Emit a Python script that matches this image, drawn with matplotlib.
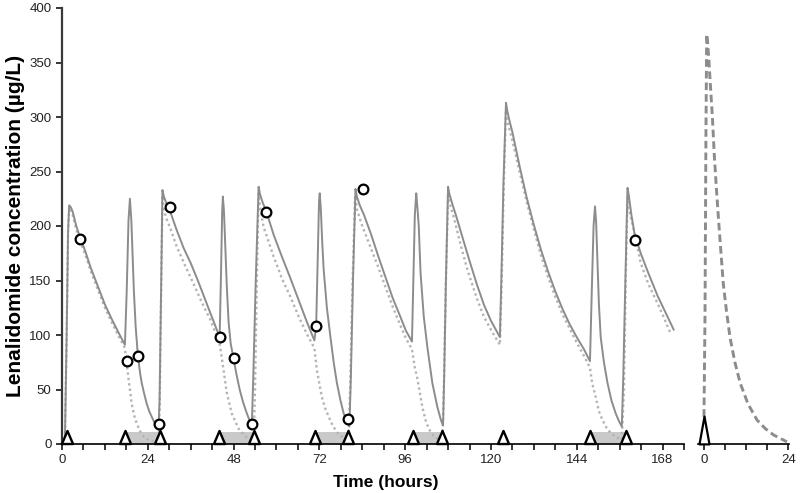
import numpy as np
import matplotlib
matplotlib.use("Agg")
import matplotlib.pyplot as plt
from matplotlib.patches import Rectangle
from matplotlib.path import Path

plt.rcParams['font.family'] = ['Liberation Sans', 'DejaVu Sans']

# model prediction, solid line (time h, conc ug/L)
solid = [
    (0.8, 0), (1.3, 100), (1.7, 195), (2.0, 219), (2.5, 217), (3.0, 213), (4.0, 200), (5.0, 190),
    (6.5, 177), (8.0, 162), (10.0, 145), (12.0, 128), (14.0, 114), (16.0, 101), (17.6, 91),
    (18.1, 140), (18.6, 205), (19.0, 225), (19.4, 205), (19.8, 168), (20.1, 141), (20.6, 108),
    (21.2, 82), (21.8, 66), (22.3, 56), (23.0, 46), (23.7, 37), (24.4, 30), (25.1, 25), (25.8, 20),
    (26.5, 17), (27.0, 15),
    (27.3, 40), (27.7, 140), (28.1, 233), (28.5, 227), (29.3, 220), (30.3, 213), (32.0, 197),
    (34.0, 180), (36.0, 166), (38.0, 150), (40.0, 133), (42.0, 116), (44.1, 98),
    (44.5, 160), (44.8, 212), (45.0, 227), (45.3, 214), (45.7, 180), (46.1, 145), (46.6, 112),
    (47.2, 92), (48.0, 78), (48.8, 64), (49.7, 50), (50.6, 39), (51.5, 30), (52.3, 23), (53.1, 17),
    (53.5, 60), (54.2, 150), (55.0, 236), (55.4, 229), (56.2, 221), (57.1, 214), (59.2, 192),
    (61.5, 172), (63.9, 152), (66.2, 132), (68.5, 112), (70.6, 95),
    (71.1, 108), (71.5, 165), (71.9, 222), (72.1, 230), (72.4, 216), (72.8, 185), (73.2, 160),
    (74.1, 125), (75.1, 98), (76.0, 75), (76.9, 56), (77.9, 40), (78.8, 28), (79.7, 20), (80.4, 16),
    (80.8, 60), (81.4, 150), (82.1, 234), (82.5, 227), (83.3, 219), (84.5, 210), (86.5, 192),
    (88.5, 172), (90.5, 153), (92.5, 134), (94.5, 118), (96.2, 104), (97.9, 94),
    (98.3, 150), (98.7, 210), (99.1, 230), (99.4, 218), (99.8, 200), (100.3, 157), (101.2, 117),
    (102.2, 89), (103.6, 56), (105.0, 34), (106.0, 22), (106.6, 17),
    (106.9, 60), (107.4, 150), (108.0, 236), (108.4, 229), (109.2, 220), (110.0, 212), (112.0, 190),
    (114.0, 168), (116.0, 147), (118.0, 128), (120.0, 113), (122.5, 98),
    (122.9, 150), (123.5, 240), (124.2, 313), (124.6, 305), (125.3, 295), (126.0, 286), (128.0, 255),
    (130.0, 226), (132.0, 201), (134.0, 178), (136.0, 158), (138.0, 140), (140.0, 124), (142.0, 110),
    (144.0, 98), (146.0, 87), (147.7, 76),
    (148.2, 140), (148.7, 200), (149.1, 218), (149.4, 205), (149.8, 165), (150.2, 128), (150.7, 98),
    (151.6, 75), (152.6, 56), (153.7, 40), (154.9, 28), (155.8, 21), (156.6, 16),
    (157.0, 60), (157.6, 150), (158.2, 235), (158.6, 227), (159.3, 210), (160.2, 192), (161.9, 175),
    (164.0, 157), (166.6, 136), (168.5, 123), (171.1, 105),
]

# dotted line
dotted = [
    (0.8, 0), (1.3, 100), (1.7, 195), (2.0, 217), (2.5, 214), (3.0, 210), (4.0, 197), (5.0, 187),
    (6.5, 174), (8.0, 159), (10.0, 142), (12.0, 125), (14.0, 111), (16.0, 98), (17.6, 88),
    (18.1, 74), (18.6, 60), (19.5, 37), (20.2, 26), (20.9, 19), (21.8, 12), (22.8, 7), (24.0, 4),
    (25.5, 2.5), (27.0, 2),
    (27.3, 30), (27.7, 130), (28.1, 228), (28.5, 215), (29.3, 206), (30.3, 198), (32.1, 181),
    (34.4, 164), (36.8, 147), (39.1, 130), (41.5, 114), (44.1, 92),
    (45.2, 68), (46.1, 47), (47.5, 28), (49.4, 14), (51.3, 7), (52.7, 4), (53.6, 3),
    (54.0, 50), (54.5, 150), (55.0, 230), (55.5, 215), (56.4, 199), (59.2, 172), (61.5, 152),
    (63.9, 135), (66.2, 117), (68.5, 101), (70.6, 88),
    (71.3, 68), (72.0, 55), (72.7, 43), (73.6, 33), (74.6, 25), (75.7, 17), (76.9, 11), (78.5, 6),
    (80.1, 4),
    (80.6, 50), (81.3, 150), (82.0, 228), (82.6, 214), (84.0, 200), (86.5, 179), (88.5, 162),
    (90.5, 144), (92.5, 126), (94.5, 110), (96.2, 97), (97.9, 87),
    (98.6, 72), (99.4, 60), (100.1, 47), (100.8, 34), (101.7, 22), (102.6, 14), (104.0, 7),
    (105.5, 4), (106.4, 3),
    (106.8, 50), (107.4, 150), (108.0, 230), (108.5, 220), (109.6, 208), (111.5, 183), (113.4, 160),
    (116.0, 134), (118.0, 117), (120.3, 103), (122.5, 91),
    (123.0, 150), (123.6, 240), (124.2, 306), (124.7, 295), (126.0, 278), (128.0, 250), (130.0, 222),
    (132.0, 197), (134.0, 173), (136.0, 153), (138.0, 135), (140.0, 119), (142.0, 106), (144.0, 93),
    (146.0, 81), (147.7, 70),
    (148.3, 56), (149.3, 43), (150.2, 30), (151.2, 22), (152.3, 15), (153.5, 10), (155.0, 6),
    (156.6, 4),
    (157.2, 50), (157.7, 150), (158.2, 228), (158.6, 215), (160.0, 196), (161.9, 166), (164.0, 147),
    (166.6, 129), (168.5, 115), (170.3, 101),
]

# observed concentrations
obs_t = [5.0, 18.1, 21.2, 27.0, 30.3, 44.2, 48.0, 53.1, 57.1, 71.1, 79.9, 84.1, 160.2]
obs_c = [188, 76, 81, 18, 217, 98, 79, 18, 213, 108, 23, 234, 187]

# doses
dose_t = [1.3, 17.5, 27.4, 44.0, 53.8, 70.9, 80.0, 98.2, 106.2, 123.4, 147.7, 157.9]

# dialysis sessions (grey boxes)
dial_start = [18.0, 44.5, 71.2, 98.8, 148.2]
dial_end = [27.0, 53.4, 79.6, 105.8, 157.4]
dial_h = 11

# single dose panel
sd_t = [0.0, 0.3, 0.55, 0.77, 1.0, 1.4, 1.9, 2.4, 2.9, 3.5, 4.1, 4.8, 5.5, 6.4, 7.4, 8.8,
        10.3, 12.5, 15.1, 17.5, 19.8, 21.8, 23.6]
sd_c = [25, 120, 280, 376, 370, 352, 325, 300, 267, 236, 208, 177, 147, 122, 98, 75,
        56, 37, 22, 14, 8.3, 5, 2]
sd_dose = [0.0]

solid_t, solid_c = zip(*solid)
dotted_t, dotted_c = zip(*dotted)


def tri_marker(half_w):
    return Path([(-half_w, -1), (half_w, -1), (0, 1), (0, 0)],
                [Path.MOVETO, Path.LINETO, Path.LINETO, Path.CLOSEPOLY])


fig = plt.figure(figsize=(8, 4.93), dpi=100)
H = 493.0
bottom = 1 - 444 / H
height = 436 / H
ax = fig.add_axes([62 / 800, bottom, (684 - 62) / 800, height])
ax2 = fig.add_axes([698 / 800, bottom, (789 - 698) / 800, height])

for s, e in zip(dial_start, dial_end):
    ax.add_patch(Rectangle((s, 0), e - s, dial_h, facecolor='#c9c9c9', edgecolor='none', zorder=1))

ax.plot(dotted_t, dotted_c, color='#b4b4b4', lw=1.7, linestyle=(0, (1, 1.3)), zorder=2)
ax.plot(solid_t, solid_c, color='#8c8c8c', lw=1.4, zorder=3)
ax.plot(dose_t, [6.0] * len(dose_t), linestyle='none', marker=tri_marker(0.85), markersize=9.4,
        mfc='white', mec='black', mew=1.7, clip_on=False, zorder=5)
ax.plot(obs_t, obs_c, linestyle='none', marker='o', markersize=7,
        mfc='white', mec='black', mew=1.6, zorder=6)

ax.set_xlim(0, 174)
ax.set_ylim(0, 400)
ax.set_xticks(np.arange(0, 169, 24))
ax.set_xticks(np.arange(0, 175, 6), minor=True)
ax.set_yticks(np.arange(0, 401, 50))
for sp in ['top', 'right']:
    ax.spines[sp].set_visible(False)
ax.spines['left'].set_color('#3a3a3a')
ax.spines['left'].set_linewidth(1.6)
ax.spines['bottom'].set_linewidth(1.2)
ax.tick_params(axis='both', which='both', direction='out', length=4, width=1.1,
               labelsize=9.5, labelcolor='#222222')
ax.set_ylabel('Lenalidomide concentration (µg/L)', fontsize=15, fontweight='bold', labelpad=3)
ax.set_xlabel('Time (hours)', fontsize=12.5, fontweight='bold', labelpad=3)
ax.xaxis.set_label_coords(0.52, -0.07)

# single dose
ax2.plot(sd_t, sd_c, color='#8c8c8c', lw=2.1, dashes=(2.6, 1.4))
ax2.plot(sd_dose, [12.5], linestyle='none', marker=tri_marker(0.36), markersize=20,
         mfc='white', mec='black', mew=1.6, clip_on=False, zorder=5)
ax2.set_xlim(-1.7, 24.2)
ax2.set_ylim(0, 400)
ax2.set_xticks([0, 24])
ax2.set_xticks(np.arange(0, 25, 6), minor=True)
ax2.set_yticks([])
for sp in ['top', 'right', 'left']:
    ax2.spines[sp].set_visible(False)
ax2.spines['bottom'].set_linewidth(1.2)
ax2.tick_params(axis='x', which='both', direction='out', length=4, width=1.1,
                labelsize=9.5, labelcolor='#222222')

fig.savefig('out.png', dpi=100)
